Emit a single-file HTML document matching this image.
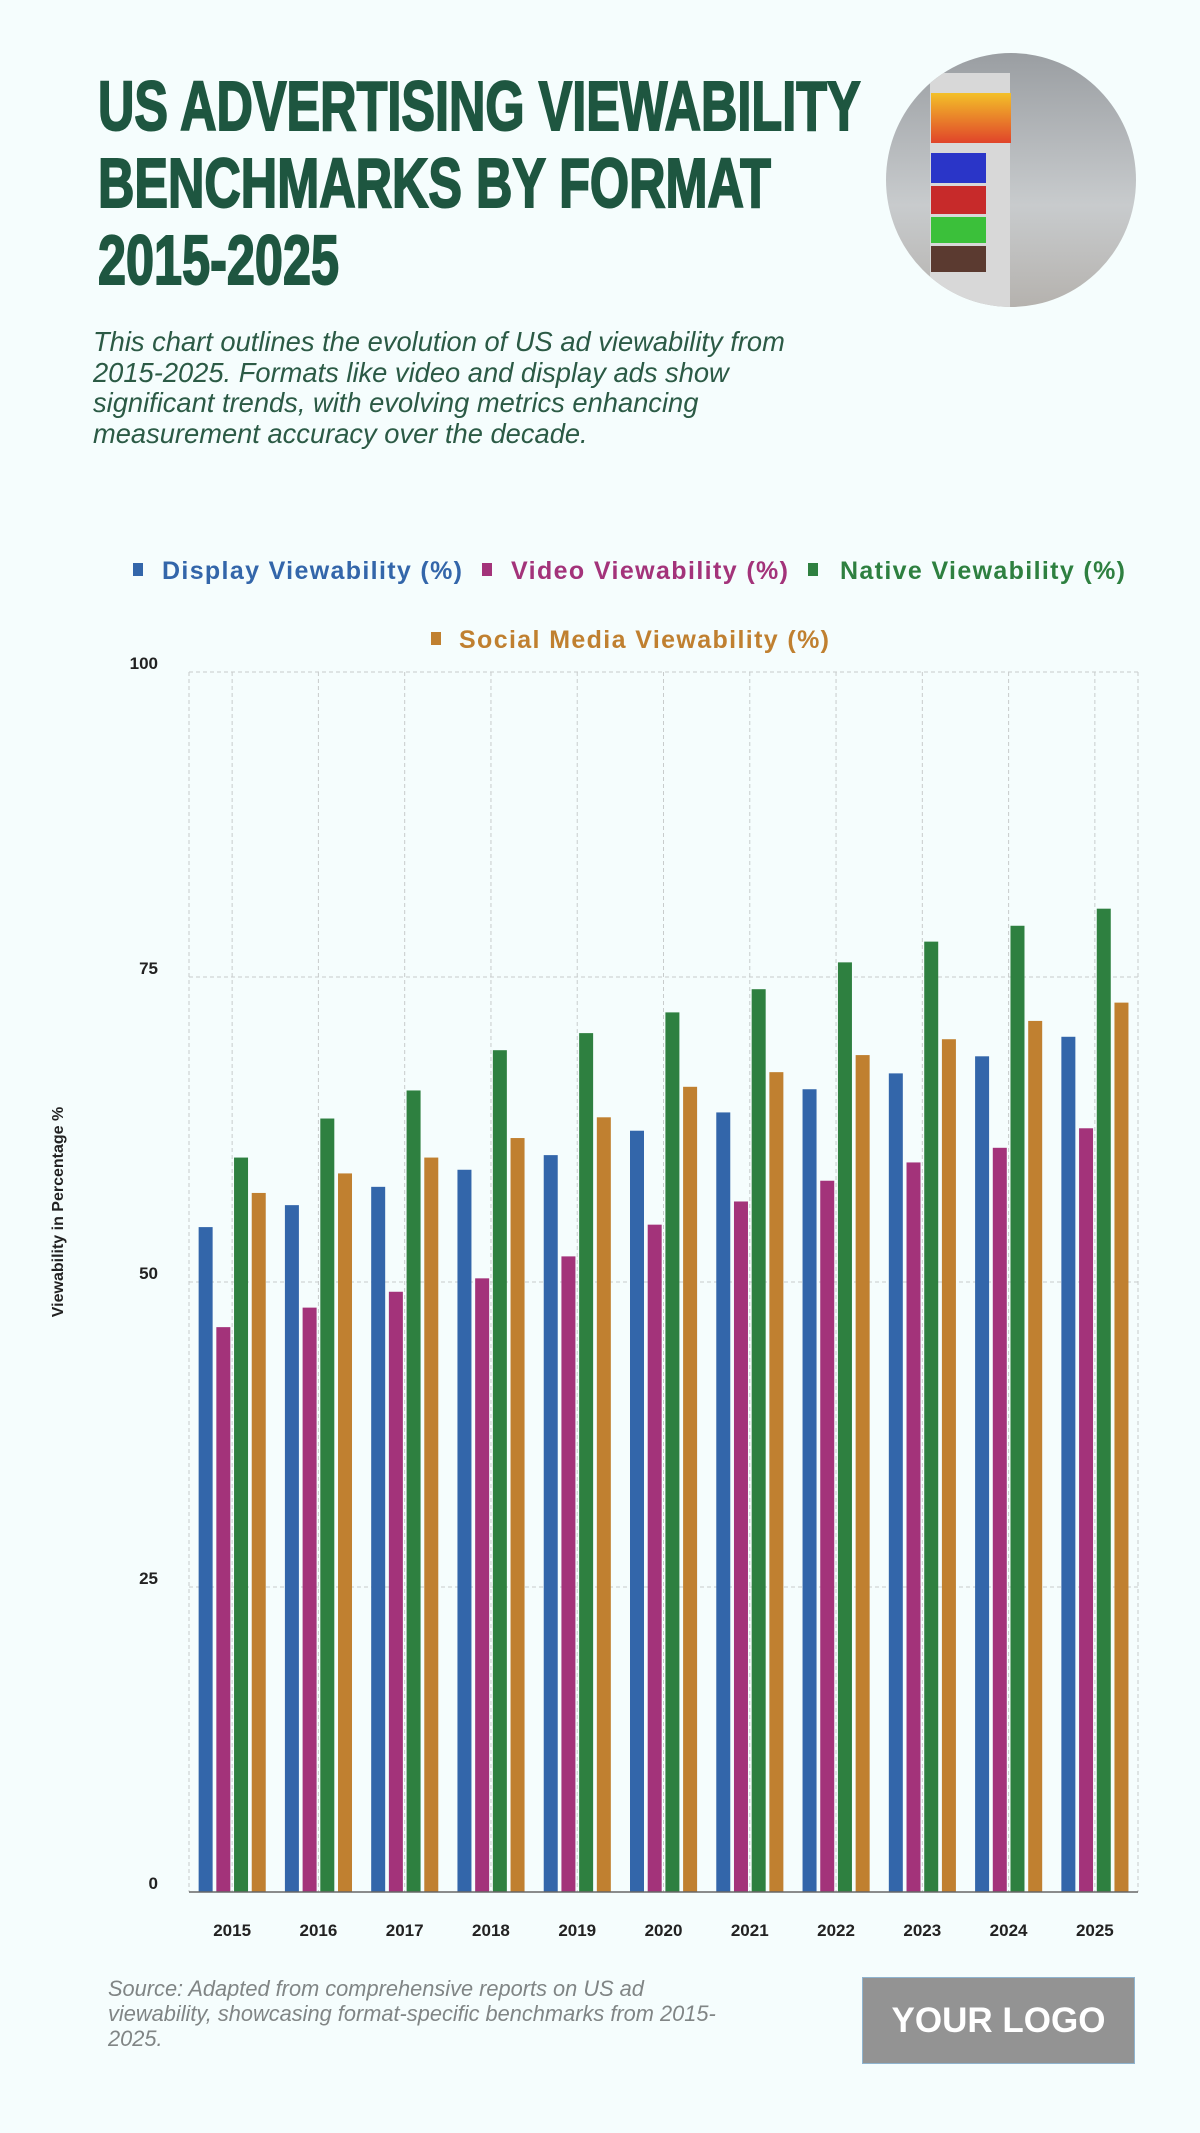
<!DOCTYPE html>
<html><head><meta charset="utf-8"><style>
html,body{margin:0;padding:0;background:#f5fdfd;}
body{width:1200px;height:2133px;position:relative;overflow:hidden;font-family:"Liberation Sans",sans-serif;}
.t{position:absolute;left:98px;font-weight:bold;color:#1e5640;font-size:70px;line-height:70px;transform-origin:0 0;transform:scaleX(0.72);white-space:nowrap;-webkit-text-stroke:2px #1e5640;}
.sub{position:absolute;left:93px;top:327px;white-space:nowrap;font-style:italic;color:#2b5a45;font-size:27.3px;line-height:30.5px;}
.circ{position:absolute;left:886px;top:53px;width:250px;height:254px;border-radius:50%;background:linear-gradient(180deg,#9a9ea2,#c8cbcd 60%,#b5b2ae);overflow:hidden;}
.src{position:absolute;left:108px;top:1976px;white-space:nowrap;font-style:italic;color:#808585;font-size:21.8px;line-height:25px;}
.logo{position:absolute;left:862px;top:1977px;width:271px;height:85px;background:#939393;border:1.5px solid #8fb4cf;color:#fff;font-weight:bold;font-size:35px;text-align:center;line-height:85px;}
</style></head><body>
<div class="t" style="top:71px">US ADVERTISING VIEWABILITY</div>
<div class="t" style="top:148px">BENCHMARKS BY FORMAT</div>
<div class="t" style="top:225px">2015-2025</div>
<div class="circ">
 <div style="position:absolute;left:44px;top:20px;width:80px;height:240px;background:#d8d8d8"></div>
 <div style="position:absolute;left:45px;top:40px;width:80px;height:50px;background:linear-gradient(#f3c029,#e0442a)"></div>
 <div style="position:absolute;left:45px;top:100px;width:55px;height:30px;background:#2a35c8"></div>
 <div style="position:absolute;left:45px;top:133px;width:55px;height:28px;background:#c72a2a"></div>
 <div style="position:absolute;left:45px;top:164px;width:55px;height:26px;background:#3bc03a"></div>
 <div style="position:absolute;left:45px;top:193px;width:55px;height:26px;background:#5b3a30"></div>
</div>
<div class="sub">This chart outlines the evolution of US ad viewability from<br>2015-2025. Formats like video and display ads show<br>significant trends, with evolving metrics enhancing<br>measurement accuracy over the decade.</div>
<svg style="position:absolute;left:0;top:0" width="1200" height="2133" font-family="Liberation Sans, sans-serif">
<g font-size="25" font-weight="bold">
<rect x="133" y="563" width="10" height="13" fill="#3366aa"/><text x="162" y="579" fill="#3366aa" textLength="300">Display Viewability (%)</text>
<rect x="482" y="563" width="10" height="13" fill="#a3337a"/><text x="511" y="579" fill="#a3337a" textLength="277">Video Viewability (%)</text>
<rect x="808" y="563" width="10" height="13" fill="#2e8040"/><text x="840" y="579" fill="#2e8040" textLength="285">Native Viewability (%)</text>
<rect x="431" y="632" width="10" height="13" fill="#c08030"/><text x="459" y="648" fill="#c08030" textLength="370">Social Media Viewability (%)</text>
</g>
<g stroke="#c8cccc" stroke-width="1" stroke-dasharray="4,3" fill="none">
<line x1="189" y1="672" x2="1138" y2="672"/><line x1="189" y1="977" x2="1138" y2="977"/><line x1="189" y1="1282" x2="1138" y2="1282"/><line x1="189" y1="1587" x2="1138" y2="1587"/>
<line x1="189" y1="672" x2="189" y2="1892"/><line x1="1138" y1="672" x2="1138" y2="1892"/>
</g>
<g id="vg" stroke="#c8cccc" stroke-width="1" stroke-dasharray="4,3"></g>
<g id="bars"></g>
<line x1="189" y1="1892" x2="1138" y2="1892" stroke="#666" stroke-width="1.5"/>
<g font-size="17" font-weight="bold" fill="#222" text-anchor="end">
<text x="158" y="669">100</text><text x="158" y="974">75</text><text x="158" y="1279">50</text><text x="158" y="1584">25</text><text x="158" y="1889">0</text>
</g>
<text transform="translate(63,1212) rotate(-90)" text-anchor="middle" font-size="16" font-weight="bold" fill="#222">Viewability in Percentage %</text>
<g id="yl" font-size="17" font-weight="bold" fill="#222" text-anchor="middle"></g>
</svg>
<div class="src">Source: Adapted from comprehensive reports on US ad<br>viewability, showcasing format-specific benchmarks from 2015-<br>2025.</div>
<div class="logo">YOUR LOGO</div>
<script>
var d=[[54.5,46.3,60.2,57.3],[56.3,47.9,63.4,58.9],[57.8,49.2,65.7,60.2],[59.2,50.3,69.0,61.8],[60.4,52.1,70.4,63.5],[62.4,54.7,72.1,66.0],[63.9,56.6,74.0,67.2],[65.8,58.3,76.2,68.6],[67.1,59.8,77.9,69.9],[68.5,61.0,79.2,71.4],[70.1,62.6,80.6,72.9]];
var c=["#3366aa","#a3337a","#2e8040","#c08030"],ns="http://www.w3.org/2000/svg";
var b=document.getElementById("bars"),v=document.getElementById("vg"),yl=document.getElementById("yl");
var w=949/11;
for(var i=0;i<11;i++){var cx=189+w*(i+0.5);
var l=document.createElementNS(ns,"line");l.setAttribute("x1",cx);l.setAttribute("x2",cx);l.setAttribute("y1",672);l.setAttribute("y2",1892);v.appendChild(l);
var t=document.createElementNS(ns,"text");t.setAttribute("x",cx);t.setAttribute("y",1936);t.textContent=2015+i;yl.appendChild(t);
for(var j=0;j<4;j++){var r=document.createElementNS(ns,"rect");var h=d[i][j]*12.2;
r.setAttribute("x",cx-33.5+j*17.7);r.setAttribute("width",14);r.setAttribute("y",1892-h);r.setAttribute("height",h);r.setAttribute("fill",c[j]);b.appendChild(r);}}
</script>
</body></html>
